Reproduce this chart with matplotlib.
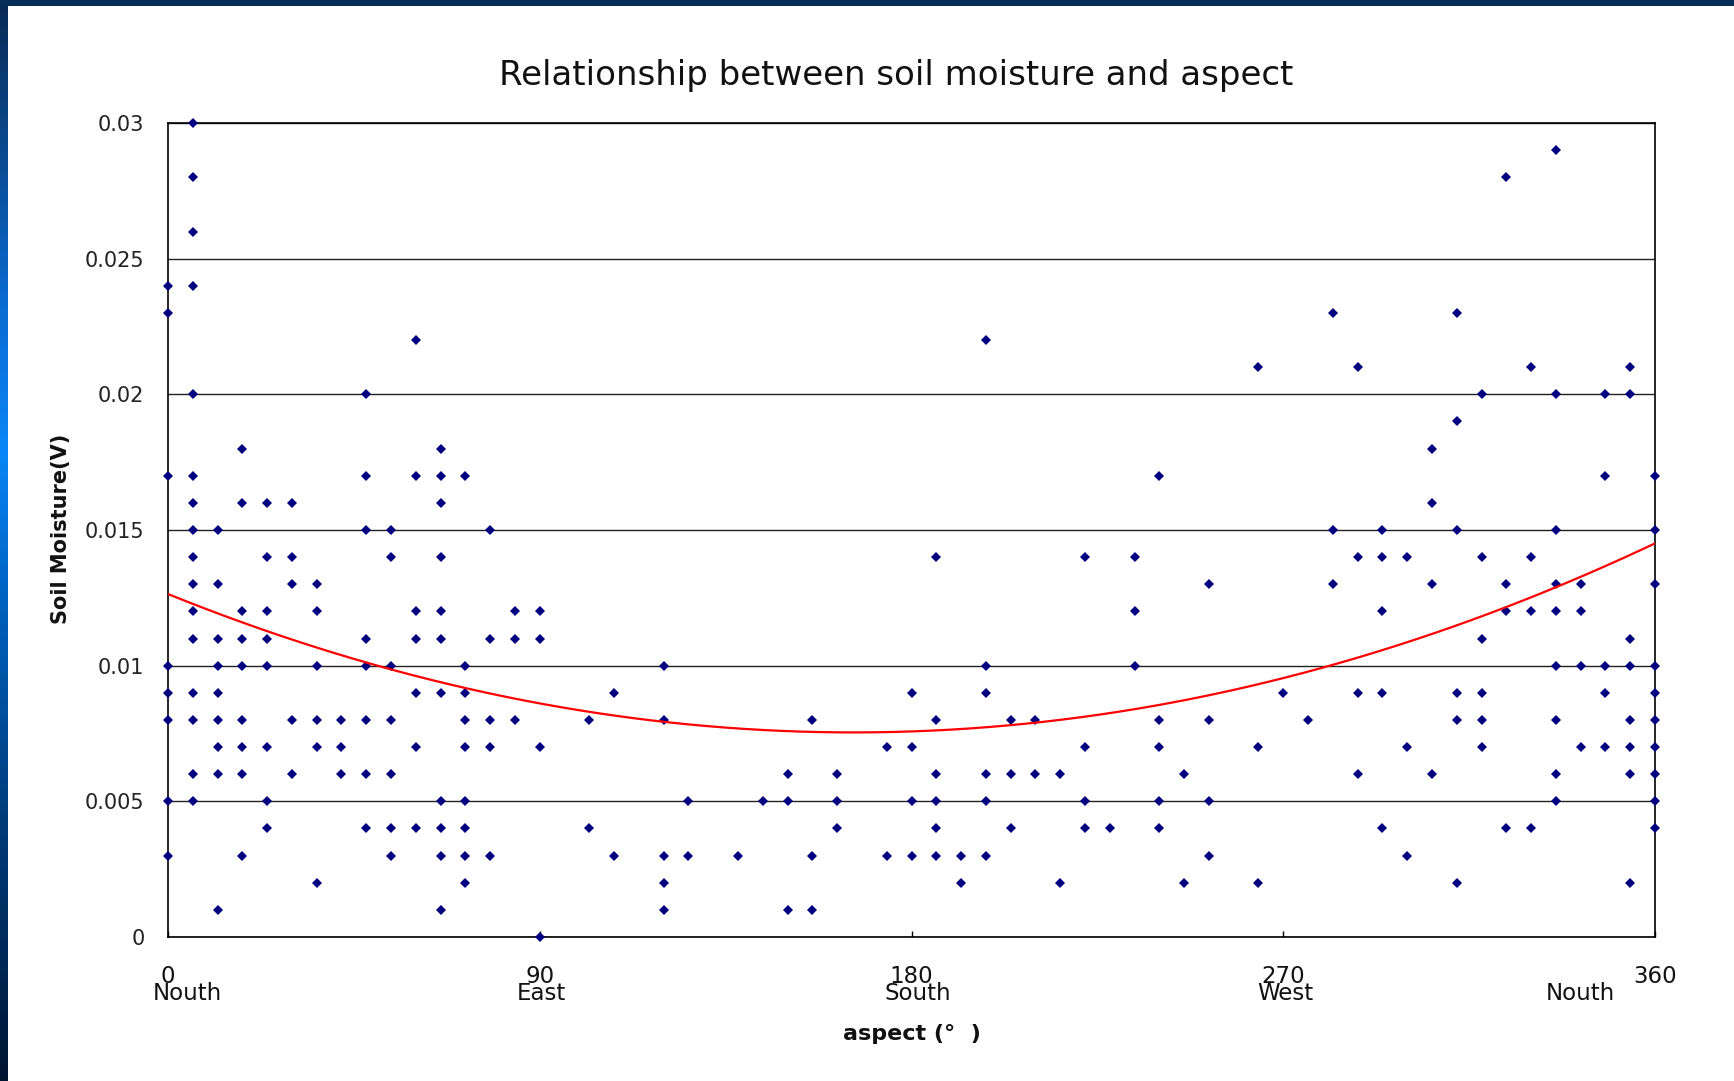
import numpy as np
import matplotlib
matplotlib.use("Agg")
import matplotlib.pyplot as plt
from matplotlib.colors import LinearSegmentedColormap
from matplotlib.patches import Rectangle
import matplotlib.transforms as mtransforms

# Aspect (degrees) of each sampling column and the soil moisture readings (V) taken there
aspect_columns = [0, 6, 12, 18, 24, 30, 36, 42, 48, 54,
                  60, 66, 72, 78, 84, 90, 102, 108, 120, 126,
                  138, 144, 150, 156, 162, 174, 180, 186, 192, 198,
                  204, 210, 216, 222, 228, 234, 240, 246, 252, 264,
                  270, 276, 282, 288, 294, 300, 306, 312, 318, 324,
                  330, 336, 342, 348, 354, 360]

moisture_columns = [
    [0.024, 0.023, 0.017, 0.010, 0.009, 0.008, 0.005, 0.003],
    [0.030, 0.028, 0.026, 0.024, 0.020, 0.017, 0.016, 0.015, 0.014, 0.013, 0.012, 0.011, 0.009, 0.008, 0.006, 0.005],
    [0.015, 0.013, 0.011, 0.010, 0.009, 0.008, 0.007, 0.006, 0.001],
    [0.018, 0.016, 0.012, 0.011, 0.010, 0.008, 0.007, 0.006, 0.003],
    [0.016, 0.014, 0.012, 0.011, 0.010, 0.007, 0.005, 0.004],
    [0.016, 0.014, 0.013, 0.008, 0.006],
    [0.013, 0.012, 0.010, 0.008, 0.007, 0.002],
    [0.008, 0.007, 0.006],
    [0.020, 0.017, 0.015, 0.011, 0.010, 0.008, 0.006, 0.004],
    [0.015, 0.014, 0.010, 0.008, 0.006, 0.004, 0.003],
    [0.022, 0.017, 0.012, 0.011, 0.009, 0.007, 0.004],
    [0.018, 0.017, 0.016, 0.014, 0.012, 0.011, 0.009, 0.005, 0.004, 0.003, 0.001],
    [0.017, 0.010, 0.009, 0.008, 0.007, 0.005, 0.004, 0.003, 0.002],
    [0.015, 0.011, 0.008, 0.007, 0.003],
    [0.012, 0.011, 0.008],
    [0.012, 0.011, 0.007, 0.000],
    [0.008, 0.004],
    [0.009, 0.003],
    [0.010, 0.008, 0.003, 0.002, 0.001],
    [0.005, 0.003],
    [0.003],
    [0.005],
    [0.006, 0.005, 0.001],
    [0.008, 0.003, 0.001],
    [0.006, 0.005, 0.004],
    [0.007, 0.003],
    [0.009, 0.007, 0.005, 0.003],
    [0.014, 0.008, 0.006, 0.005, 0.004, 0.003],
    [0.003, 0.002],
    [0.022, 0.010, 0.009, 0.006, 0.005, 0.003],
    [0.008, 0.006, 0.004],
    [0.008, 0.006],
    [0.006, 0.002],
    [0.014, 0.007, 0.005, 0.004],
    [0.004],
    [0.014, 0.012, 0.010],
    [0.017, 0.008, 0.007, 0.005, 0.004],
    [0.006, 0.002],
    [0.013, 0.008, 0.005, 0.003],
    [0.021, 0.007, 0.002],
    [0.009],
    [0.008],
    [0.023, 0.015, 0.013],
    [0.021, 0.014, 0.009, 0.006],
    [0.015, 0.014, 0.012, 0.009, 0.004],
    [0.014, 0.007, 0.003],
    [0.018, 0.016, 0.013, 0.006],
    [0.023, 0.019, 0.015, 0.009, 0.008, 0.002],
    [0.020, 0.014, 0.011, 0.009, 0.008, 0.007],
    [0.028, 0.013, 0.012, 0.004],
    [0.021, 0.014, 0.012, 0.004],
    [0.029, 0.020, 0.015, 0.013, 0.012, 0.010, 0.008, 0.006, 0.005],
    [0.013, 0.012, 0.010, 0.007],
    [0.020, 0.017, 0.010, 0.009, 0.007],
    [0.021, 0.020, 0.011, 0.010, 0.008, 0.007, 0.006, 0.002],
    [0.017, 0.015, 0.013, 0.010, 0.009, 0.008, 0.007, 0.006, 0.005, 0.004],
]

# Quadratic trendline y = c2*x^2 + c1*x + c0 (moisture in V against aspect in degrees)
trend_coef = [1.851e-7, -6.145e-5, 0.01264]

x_ticks = [0, 90, 180, 270, 360]
direction_labels = ["Nouth", "East", "South", "West", "Nouth"]
direction_positions = [4.7, 90.5, 181.5, 270.5, 342]
y_ticks = [0, 0.005, 0.01, 0.015, 0.02, 0.025, 0.03]
y_tick_labels = ["0", "0.005", "0.01", "0.015", "0.02", "0.025", "0.03"]

aspect = np.concatenate([[a] * len(v) for a, v in zip(aspect_columns, moisture_columns)]).astype(float)
moisture = np.concatenate(moisture_columns)

W, H = 1734, 1081
fig = plt.figure(figsize=(W / 100, H / 100), dpi=100, facecolor="white")

# Slide background bands along the top and left edges
band = fig.add_axes([0, 0, 8 / W, 1])
stops = [(0.0, "#0a2a55"), (150 / H, "#0a4a8f"), (300 / H, "#0a6ad0"), (450 / H, "#0a86f8"),
         (600 / H, "#0062c0"), (800 / H, "#003f80"), (950 / H, "#002a5a"), (1.0, "#001530")]
cmap = LinearSegmentedColormap.from_list("edge", stops)
band.imshow(np.linspace(0, 1, 512).reshape(-1, 1), aspect="auto", cmap=cmap, extent=[0, 1, 1, 0])
band.set_axis_off()
fig.patches.append(Rectangle((0, 1 - 6 / H), 1, 6 / H, transform=fig.transFigure,
                             facecolor="#082c58", edgecolor="none", zorder=5))

ax = fig.add_axes([168 / W, 1 - 937 / H, (1655 - 168) / W, (937 - 123) / H])
ax.set_xlim(0, 360)
ax.set_ylim(0, 0.03)

ax.yaxis.grid(True, color="#222222", linewidth=1.0)
ax.set_axisbelow(True)

ax.plot(aspect, moisture, linestyle="none", marker="D", markersize=5.5,
        color="#000080", markeredgewidth=0, clip_on=False, zorder=3)

xs = np.linspace(0, 360, 400)
ax.plot(xs, np.polyval(trend_coef, xs), color="#ff0000", linewidth=1.6, zorder=4)

for s in ax.spines.values():
    s.set_color("black")
    s.set_linewidth(1.2)

ax.set_yticks(y_ticks)
ax.set_yticklabels(y_tick_labels)
ax.tick_params(axis="y", length=0, pad=17, labelsize=15, labelcolor="#222222")
ax.set_xticks(x_ticks)
ax.set_xticklabels([str(t) for t in x_ticks])
ax.tick_params(axis="x", direction="in", length=4, width=1, pad=20, labelsize=16.5, labelcolor="#111111")

trans = mtransforms.blended_transform_factory(ax.transData, fig.transFigure)
for lab, pos in zip(direction_labels, direction_positions):
    ax.text(pos, 1 - 994 / H, lab, transform=trans, ha="center", va="center",
            fontsize=16.5, color="#111111")

fig.text(896 / W, 1 - 75 / H, "Relationship between soil moisture and aspect",
         ha="center", va="center", fontsize=24.5, color="#111111")
fig.text(61 / W, 1 - 529 / H, "Soil Moisture(V)", rotation=90, ha="center", va="center",
         fontsize=15, fontweight="bold", color="#111111")
fig.text(912 / W, 1 - 1034 / H, "aspect (°  )", ha="center", va="center",
         fontsize=16, fontweight="bold", color="#111111")

fig.savefig("out.png", dpi=100, facecolor="white")
